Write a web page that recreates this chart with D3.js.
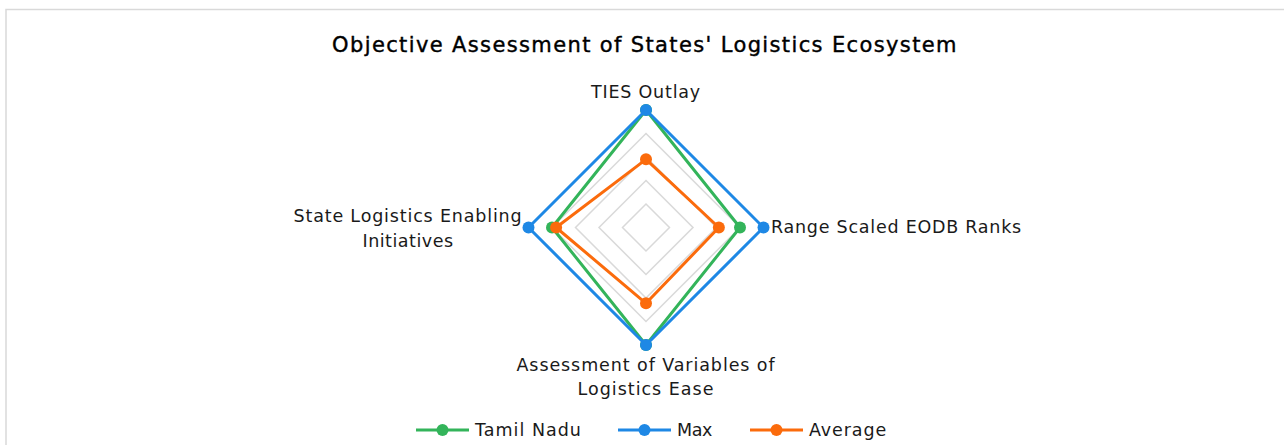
<!DOCTYPE html>
<html>
<head>
<meta charset="utf-8">
<script src="https://cdn.jsdelivr.net/npm/d3@7"></script>
<style>
  body { margin: 0; background: #fff; }
  svg { display: block; font-family: "DejaVu Sans", sans-serif; }
</style>
</head>
<body>
<svg width="1284" height="445"></svg>
<script>
var axes = ["TIES Outlay", "Range Scaled EODB Ranks", "Assessment of Variables of Logistics Ease", "State Logistics Enabling Initiatives"];
var seriesNames = ["Tamil Nadu", "Max", "Average"];
var tamilNadu = [1.0, 0.8, 1.0, 0.8];
var maxVals = [1.0, 1.0, 1.0, 1.0];
var average = [0.58, 0.62, 0.645, 0.765];
var gridLevels = [0.2, 0.4, 0.6, 0.8, 1.0];
var colors = ["#33b45a", "#1e88e5", "#fb6b0c"];

var seriesData = [tamilNadu, maxVals, average];

var svg = d3.select("svg");
var cx = 646, cy = 227.5;

// spread text so it takes the same width as in the original
function fit(sel, w) {
  var n = sel.text().length;
  var len = sel.node().getComputedTextLength();
  sel.attr("letter-spacing", ((w - len) / n).toFixed(2));
}

// chart frame
svg.append("rect")
  .attr("x", 6).attr("y", 9.5)
  .attr("width", 1400).attr("height", 600)
  .attr("fill", "none")
  .attr("stroke", "#d9d9d9")
  .attr("stroke-width", 1.5);

var title = svg.append("text")
  .attr("x", 645).attr("y", 52)
  .attr("text-anchor", "middle")
  .attr("font-size", "21px")
  .attr("fill", "#000")
  .attr("stroke", "#000")
  .attr("stroke-width", 0.4)
  .text("Objective Assessment of States' Logistics Ecosystem");
fit(title, 626);

var rScale = d3.scaleLinear().domain([0, 1]).range([0, 117.5]);
var angle = function(i) { return i * 2 * Math.PI / axes.length; };

var radial = d3.lineRadial()
  .angle(function(d, i) { return angle(i); })
  .radius(function(d) { return rScale(d); })
  .curve(d3.curveLinearClosed);

var g = svg.append("g").attr("transform", "translate(" + cx + "," + cy + ")");

// grid diamonds
g.selectAll(".grid")
  .data(gridLevels)
  .enter()
  .append("path")
  .attr("class", "grid")
  .attr("d", function(l) { return radial(axes.map(function() { return l; })); })
  .attr("fill", "none")
  .attr("stroke", "#d9d9d9")
  .attr("stroke-width", 1.5);

// series
seriesData.forEach(function(vals, s) {
  g.append("path")
    .attr("d", radial(vals))
    .attr("fill", "none")
    .attr("stroke", colors[s])
    .attr("stroke-width", 3)
    .attr("stroke-linejoin", "round");
  g.selectAll(".pt" + s)
    .data(vals)
    .enter()
    .append("circle")
    .attr("cx", function(d, i) { return rScale(d) * Math.sin(angle(i)); })
    .attr("cy", function(d, i) { return -rScale(d) * Math.cos(angle(i)); })
    .attr("r", 6)
    .attr("fill", colors[s]);
});

// axis labels
var labelFont = "17.5px";
var lab = svg.append("g").attr("font-size", labelFont).attr("fill", "#1a1a1a");
fit(lab.append("text").attr("x", 646).attr("y", 98).attr("text-anchor", "middle").text(axes[0]), 110);
fit(lab.append("text").attr("x", 771).attr("y", 233).attr("text-anchor", "start").text(axes[1]), 251);
fit(lab.append("text").attr("x", 646).attr("y", 371).attr("text-anchor", "middle").text("Assessment of Variables of"), 259);
fit(lab.append("text").attr("x", 646).attr("y", 395).attr("text-anchor", "middle").text("Logistics Ease"), 137);
fit(lab.append("text").attr("x", 408).attr("y", 222).attr("text-anchor", "middle").text("State Logistics Enabling"), 229);
fit(lab.append("text").attr("x", 408).attr("y", 247).attr("text-anchor", "middle").text("Initiatives"), 91);

// legend
var legendX = [416, 618, 750];
var legendW = [107, 35, 78];
var leg = svg.selectAll(".leg")
  .data(seriesNames)
  .enter()
  .append("g")
  .attr("class", "leg")
  .attr("transform", function(d, i) { return "translate(" + legendX[i] + ",430)"; });
leg.append("line")
  .attr("x1", 0).attr("x2", 53)
  .attr("stroke", function(d, i) { return colors[i]; })
  .attr("stroke-width", 3);
leg.append("circle")
  .attr("cx", 26.5).attr("r", 6)
  .attr("fill", function(d, i) { return colors[i]; });
leg.append("text")
  .attr("x", 59).attr("y", 6)
  .attr("font-size", labelFont)
  .attr("fill", "#1a1a1a")
  .text(function(d) { return d; })
  .each(function(d, i) { fit(d3.select(this), legendW[i]); });
</script>
</body>
</html>
